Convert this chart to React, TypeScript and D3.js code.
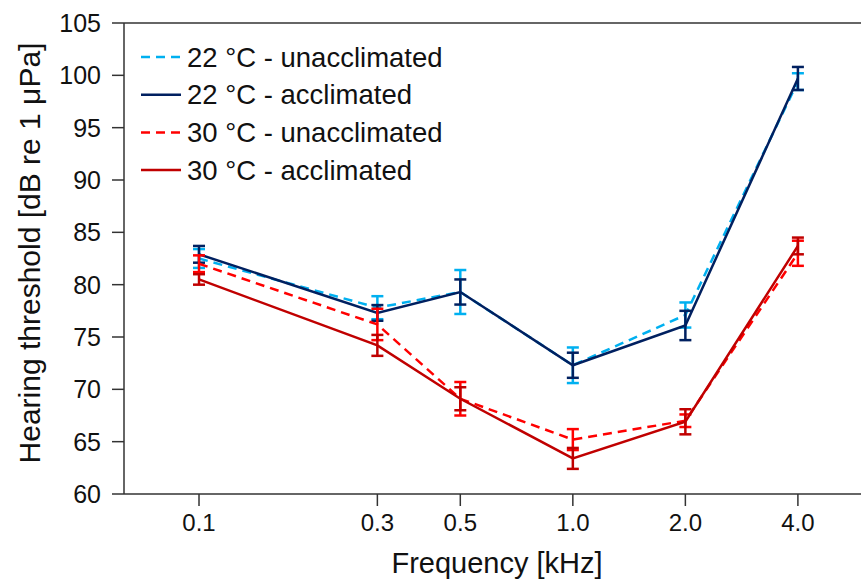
import React from "react";
import * as d3 from "d3";

const freqs = [0.1, 0.3, 0.5, 1.0, 2.0, 4.0];
const tickLabels = ["0.1", "0.3", "0.5", "1.0", "2.0", "4.0"];
const yTicks = [60, 65, 70, 75, 80, 85, 90, 95, 100, 105];

const u22 = [82.5, 77.8, 79.3, 72.3, 77.1, 99.4];
const u22Err = [0.9, 1.1, 2.1, 1.7, 1.2, 0.8];
const a22 = [82.9, 77.3, 79.3, 72.3, 76.1, 99.7];
const a22Err = [0.8, 0.75, 1.2, 1.2, 1.4, 1.1];
const u30 = [82.0, 76.2, 69.1, 65.2, 67.0, 83.0];
const u30Err = [0.8, 1.5, 1.6, 1.0, 0.6, 1.2];
const a30 = [80.5, 74.2, 69.1, 63.4, 66.9, 83.7];
const a30Err = [0.5, 1.0, 1.1, 1.0, 1.2, 0.8];

const seriesNames = ["22 °C - unacclimated", "22 °C - acclimated", "30 °C - unacclimated", "30 °C - acclimated"];
const seriesColors = ["#00B0F0", "#002060", "#FF0000", "#C00000"];
const seriesDashed = [true, false, true, false];
const seriesValues = [u22, a22, u30, a30];
const seriesErrors = [u22Err, a22Err, u30Err, a30Err];

const W = 861;
const H = 579;
const FONT = "'Liberation Sans', Arial, sans-serif";

export default function App() {
  const x = d3.scaleLog().domain([0.063, 5.9]).range([124, 861]);
  const y = d3.scaleLinear().domain([60, 105]).range([494, 23]);
  const line = d3
    .line<[number, number]>()
    .x((d) => x(d[0]))
    .y((d) => y(d[1]));
  const [x0, x1] = x.range();
  const [yb, yt] = y.range();

  return (
    <svg
      width={W}
      height={H}
      style={{ position: "absolute", left: 0, top: 0, background: "#fff" }}
      fontFamily={FONT}
    >
      <rect x={0} y={0} width={W} height={H} fill="#fff" />
      {/* axes */}
      <line x1={x0} x2={x1} y1={yt} y2={yt} stroke="#333" strokeWidth={1.5} />
      <line x1={x0} x2={x0} y1={yt} y2={yb} stroke="#333" strokeWidth={1.5} />
      <line x1={x0} x2={x1} y1={yb} y2={yb} stroke="#333" strokeWidth={1.5} />
      {yTicks.map((t) => (
        <g key={t}>
          <line x1={x0 - 12} x2={x0} y1={y(t)} y2={y(t)} stroke="#333" strokeWidth={1.5} />
          <text x={x0 - 23} y={y(t)} textAnchor="end" dominantBaseline="central" fontSize={25} fill="#111">
            {t}
          </text>
        </g>
      ))}
      {freqs.map((f, i) => (
        <g key={f}>
          <line x1={x(f)} x2={x(f)} y1={yb} y2={yb + 12} stroke="#333" strokeWidth={1.5} />
          <text x={x(f)} y={yb + 28} textAnchor="middle" dominantBaseline="central" fontSize={24} fill="#111">
            {tickLabels[i]}
          </text>
        </g>
      ))}
      <text x={497} y={563} textAnchor="middle" dominantBaseline="central" fontSize={29} fill="#111">
        Frequency [kHz]
      </text>
      <text
        transform={`translate(29,253) rotate(-90)`}
        textAnchor="middle"
        dominantBaseline="central"
        fontSize={30}
        fill="#111"
      >
        Hearing threshold [dB re 1 μPa]
      </text>
      {/* series */}
      {seriesValues.map((vals, si) => {
        const pts = freqs.map((f, i) => [f, vals[i]] as [number, number]);
        const color = seriesColors[si];
        return (
          <g key={si}>
            <path
              d={line(pts) || ""}
              fill="none"
              stroke={color}
              strokeWidth={2.5}
              strokeDasharray={seriesDashed[si] ? "9,6" : undefined}
            />
            {freqs.map((f, i) => {
              const cx = x(f);
              const hi = y(vals[i] + seriesErrors[si][i]);
              const lo = y(vals[i] - seriesErrors[si][i]);
              return (
                <g key={i} stroke={color} strokeWidth={2.5}>
                  <line x1={cx} x2={cx} y1={hi} y2={lo} />
                  <line x1={cx - 6} x2={cx + 6} y1={hi} y2={hi} />
                  <line x1={cx - 6} x2={cx + 6} y1={lo} y2={lo} />
                </g>
              );
            })}
          </g>
        );
      })}
      {/* legend */}
      {seriesNames.map((name, i) => {
        const ly = 57 + i * 37.7;
        return (
          <g key={name}>
            <line
              x1={141}
              x2={181}
              y1={ly}
              y2={ly}
              stroke={seriesColors[i]}
              strokeWidth={2.5}
              strokeDasharray={seriesDashed[i] ? "9,6" : undefined}
            />
            <text x={187} y={ly} dominantBaseline="central" fontSize={27.5} fill="#111">
              {name}
            </text>
          </g>
        );
      })}
    </svg>
  );
}
